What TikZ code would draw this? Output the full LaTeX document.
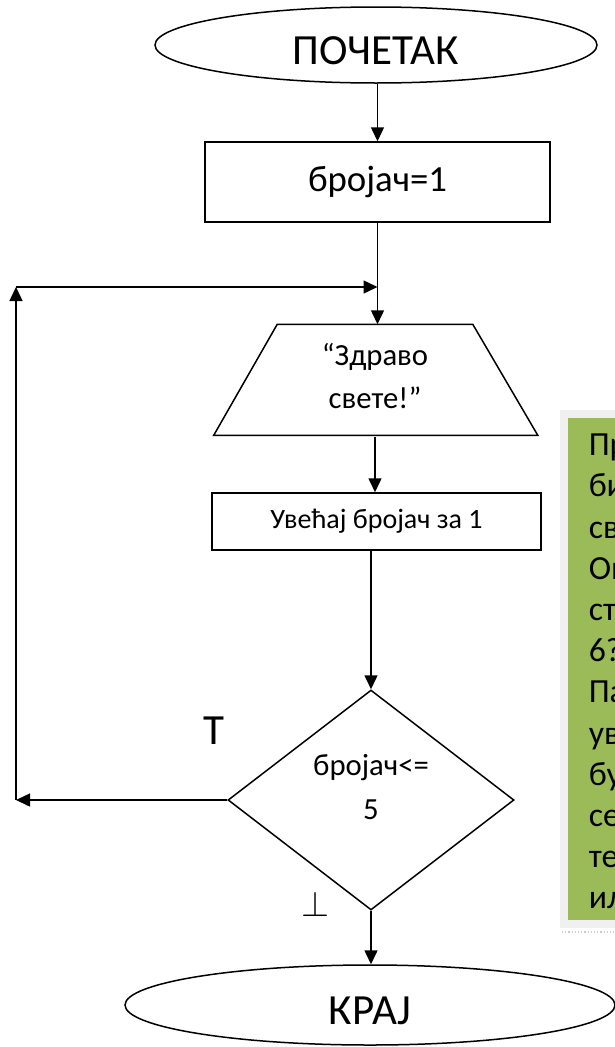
\documentclass[tikz,border=0pt]{standalone}
\usepackage{fontspec}
\usepackage{graphicx}
\setmainfont{Carlito}
\usetikzlibrary{shapes.geometric,arrows.meta}
\definecolor{notegreen}{HTML}{9BBB59}
\definecolor{noteframe}{HTML}{F0F0F0}
\definecolor{noterule}{HTML}{C8CDBE}
\begin{document}
\begin{tikzpicture}[x=1pt, y=-1pt, line width=1.5pt,
        >={Triangle[length=14pt,width=13pt]},
        terminal/.style={draw, ellipse, inner sep=0pt, minimum width=442pt, minimum height=76pt, text height=40pt, font=\fontsize{43}{50}\selectfont},
        process/.style={draw, rectangle, inner sep=0pt, align=center},
        io/.style={inner sep=0pt, minimum width=194pt, minimum height=111pt, align=center, text depth=9pt, font=\fontsize{30.7}{43}\selectfont},
        decision/.style={draw, diamond, inner sep=0pt, minimum width=286pt, minimum height=220pt, align=center, text depth=25.5pt, font=\fontsize{30.7}{44}\selectfont},
        branch/.style={inner sep=0pt, font=\fontsize{43}{43}\selectfont},
        note/.style={inner sep=0pt, anchor=north west, align=left, font=\fontsize{33.75}{41.2}\selectfont}]
        \useasboundingbox (0,0) rectangle (615,1047);
        \fill[noteframe] (560,410) rectangle (640,928);
        \fill[notegreen] (568,418) rectangle (640,920);
        \draw[noterule, line width=1.2pt, dotted] (562,932) -- (615,932);
        \node[note] (hint) at (588,433.3) {Пр\\би\\св\\Ов\\ст\\6?\\Па\\ув\\бу\\се\\те\\ил};
        \node[terminal] (start) at (376,45) {ПОЧЕТАК};
        \node[process, minimum width=345pt, minimum height=80pt, font=\fontsize{36.8}{44}\selectfont] (init) at (377.5,182) {бројач=1};
        \node[io] (print) at (375,380.5) {“Здраво\\свете!”};
        \draw (print.north west) -- (print.north east) -- ++(65,111) -- ++(-324,0) -- cycle;
        \node[process, minimum width=329pt, minimum height=57pt, font=\fontsize{28}{34}\selectfont] (incr) at (376.5,521.5) {Увећај бројач за 1};
        \node[decision] (test) at (371,800) {бројач<=\\5};
        \node[terminal, minimum width=490pt, minimum height=80pt] (stop) at (370,1005) {КРАЈ};
        \node[branch] (yes) at (214,731) {Т};
        \node[inner sep=0pt] (no) at (315,904) {\scalebox{3.6}{$\perp$}};
        \coordinate (join) at (init.south |- 0,287);
        \coordinate (loopbl) at (16,800);
        \coordinate (looptl) at (16,287);
        \draw[->] (init.north |- start.south) -- (init.north);
        \draw[->] (init.south) -- (init.south |- print.north);
        \draw[->] (print.south) -- (print.south |- incr.north);
        \draw[->] (incr.south -| test.north) -- (test.north);
        \draw[->] (test.west) -- (loopbl);
        \draw[->] (loopbl) -- (looptl);
        \draw[->] (looptl) -- (join);
        \draw[->] (test.south) -- (test.south |- stop.north);
\end{tikzpicture}
\end{document}
